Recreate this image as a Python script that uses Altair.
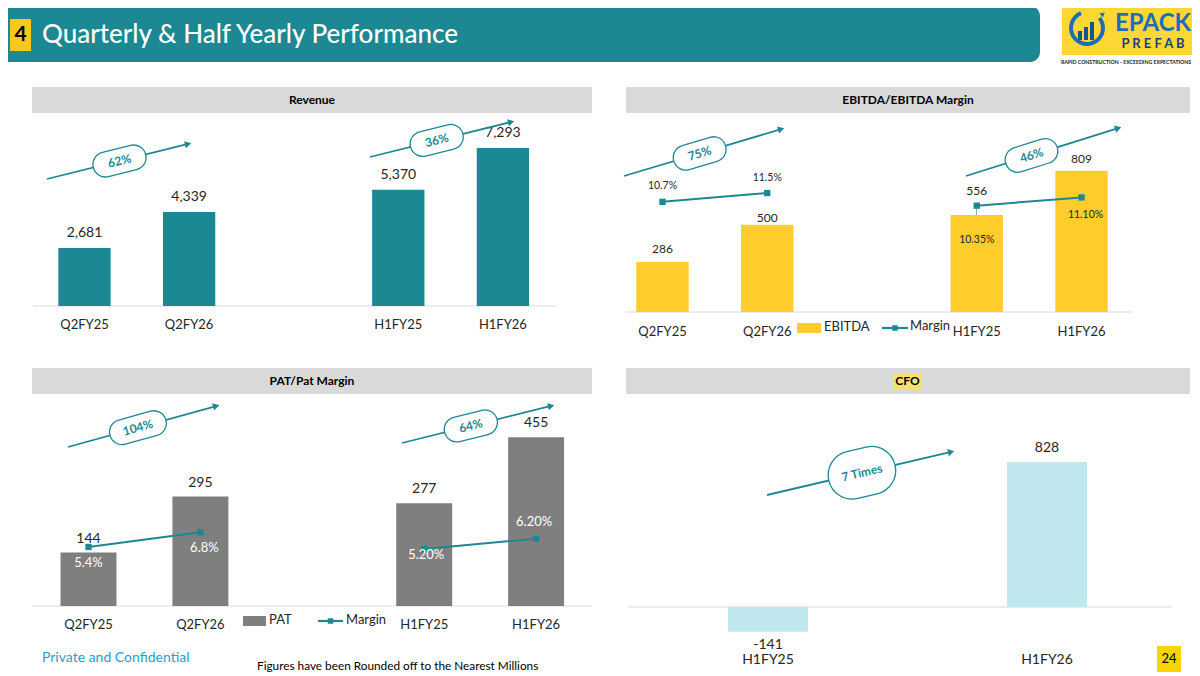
import math
import altair as alt
import pandas as pd

# ---------------- data ----------------
rev_cats = ["Q2FY25", "Q2FY26", "H1FY25", "H1FY26"]
rev_vals = [2681, 4339, 5370, 7293]
rev_growth = ["62%", "36%"]

ebitda_cats = ["Q2FY25", "Q2FY26", "H1FY25", "H1FY26"]
ebitda_vals = [286, 500, 556, 809]
ebitda_margin = [10.7, 11.5, 10.35, 11.10]
ebitda_margin_labels = ["10.7%", "11.5%", "10.35%", "11.10%"]
ebitda_growth = ["75%", "46%"]

pat_cats = ["Q2FY25", "Q2FY26", "H1FY25", "H1FY26"]
pat_vals = [144, 295, 277, 455]
pat_margin = [5.4, 6.8, 5.2, 6.2]
pat_margin_labels = ["5.4%", "6.8%", "5.20%", "6.20%"]
pat_growth = ["104%", "64%"]

cfo_cats = ["H1FY25", "H1FY26"]
cfo_vals = [-141, 828]
cfo_growth = ["7 Times"]

period_group = ["Quarter", "Quarter", "Half year", "Half year"]

# ---------------- styles ----------------
FONT = "Lato"
TEAL = "#1B8893"
ARROW = "#1F8792"
YELLOW = "#FECD2C"
GRAYBAR = "#7F7F7F"
CFOBLUE = "#BFE7ED"
TITLEGRAY = "#D9D9D9"
AXIS = "#D9D9D9"
INK = "#262626"

one = pd.DataFrame({"k": [0]})


def P(v):
    return v - 8


def d_rect(x0, y0, x1, y1, color, **kw):
    return alt.Chart(one).mark_rect(color=color, **kw).encode(
        x=alt.value(P(x0)), x2=alt.value(P(x1)), y=alt.value(P(y0)), y2=alt.value(P(y1)))


def d_text(x, y, text, size=12, color=INK, weight="normal", align="center", font=FONT, **kw):
    return alt.Chart(one).mark_text(text=text, fontSize=size, color=color, fontWeight=weight,
                                    align=align, baseline="middle", font=font, **kw).encode(
        x=alt.value(P(x)), y=alt.value(P(y)))


def d_rule(x0, y0, x1, y1, color, width=1.0):
    return alt.Chart(one).mark_rule(color=color, strokeWidth=width).encode(
        x=alt.value(P(x0)), x2=alt.value(P(x1)), y=alt.value(P(y0)), y2=alt.value(P(y1)))


def d_point(x, y, shape, size, color, angle=0.0):
    return alt.Chart(one).mark_point(shape=shape, size=size, filled=True, color=color,
                                     opacity=1, angle=angle).encode(
        x=alt.value(P(x)), y=alt.value(P(y)))


def pill_path(w, h):
    b = h / w
    return (f"M{-1 + b},{-b} L{1 - b},{-b} A{b},{b} 0 0 1 {1 - b},{b} "
            f"L{-1 + b},{b} A{b},{b} 0 0 1 {-1 + b},{-b} Z")


def arrow(x0, y0, x1, y1, t, w, h, label, fs=12):
    ang = math.degrees(math.atan2(y0 - y1, x1 - x0))
    rot = (360 - ang) % 360
    L = math.hypot(x1 - x0, y1 - y0)
    ux, uy = (x1 - x0) / L, (y1 - y0) / L
    hx, hy = x1 - 4 * ux, y1 - 4 * uy
    cx, cy = x0 + t * (x1 - x0), y0 + t * (y1 - y0)
    layers = [
        d_rule(x0, y0, hx, hy, ARROW, 1.8),
        d_point(hx, hy, "triangle-right", 55, ARROW, rot),
        alt.Chart(one).mark_point(shape=pill_path(w, h), size=w * w, filled=True, fill="white",
                                  stroke=ARROW, strokeWidth=1.3, opacity=1, angle=rot).encode(
            x=alt.value(P(cx)), y=alt.value(P(cy))),
        alt.Chart(one).mark_text(text=label, angle=rot, fontSize=fs, fontWeight="bold", color=ARROW,
                                 font=FONT, baseline="middle", align="center").encode(
            x=alt.value(P(cx)), y=alt.value(P(cy))),
    ]
    return layers


def band(domain, start, stop, pi=0.5):
    return alt.Scale(domain=domain, range=[P(start), P(stop)], paddingInner=pi, paddingOuter=pi / 2)


def lin(domain, bottom, top):
    return alt.Scale(domain=domain, range=[P(bottom), P(top)], nice=False, zero=False)


def xlab_layer(df, xs, y):
    return alt.Chart(df).mark_text(font=FONT, fontSize=13, color=INK, baseline="middle").encode(
        x=alt.X("cat:N", scale=xs, axis=None), y=alt.value(P(y)), text="cat:N")


layers = []

# ---------------- header ----------------
layers.append(d_rect(-10, 6, 1040, 62, TEAL, cornerRadiusTopRight=10, cornerRadiusBottomRight=10))
layers.append(d_rect(10, 19, 31, 51, "#F9C81D"))
layers.append(d_text(20.5, 35, "4", size=21, color="black", weight="bold"))
layers.append(d_text(42, 35, "Quarterly & Half Yearly Performance", size=26, color="white",
                     weight=500, align="left"))

# logo
layers.append(d_rect(1062, 2, 1195, 55, "#FDD835"))
layers.append(alt.Chart(one).mark_arc(color="#1E6DB5", theta=0.9, theta2=5.9, radius=18,
                                      radius2=14).encode(x=alt.value(P(1087)), y=alt.value(P(28))))
layers.append(d_rect(1078, 31, 1082, 40, "#1E4F8F"))
layers.append(d_rect(1084, 27, 1088, 40, "#1E4F8F"))
layers.append(d_rect(1090, 22, 1094, 40, "#1E4F8F"))
layers.append(d_point(1103, 14, "triangle-right", 30, "#1E6DB5", 320))
layers.append(d_text(1153, 24, "EPACK", size=24, color="#1E6DB5", weight="bold"))
layers.append(d_text(1153, 44, "P R E F A B", size=13, color="#1E3F7A", weight="bold"))
layers.append(d_text(1126, 62, "RAPID CONSTRUCTION - EXCEEDING EXPECTATIONS", size=5.2,
                     color="#1A1A1A", weight="bold"))

# ---------------- panel titles ----------------
layers.append(d_rect(32, 87, 592, 113, TITLEGRAY))
layers.append(d_text(312, 100, "Revenue", size=12, weight="bold", color="black"))
layers.append(d_rect(626, 87, 1190, 113, TITLEGRAY))
layers.append(d_text(908, 100, "EBITDA/EBITDA Margin", size=12, weight="bold", color="black"))
layers.append(d_rect(32, 368, 592, 394, TITLEGRAY))
layers.append(d_text(312, 381, "PAT/Pat Margin", size=12, weight="bold", color="black"))
layers.append(d_rect(626, 368, 1190, 394, TITLEGRAY))
layers.append(d_rect(894, 373, 921, 390, "#F3E26E"))
layers.append(d_text(907.5, 381, "CFO", size=12, weight="bold", color="black"))

# ---------------- Revenue ----------------
rev_df = pd.DataFrame({"cat": rev_cats, "v": rev_vals})
rev_x = band(rev_cats[:2] + [" "] + rev_cats[2:], 32.2, 555.2)
rev_y = lin([0, 8000], 306, 306 - 8000 * 0.02165)
layers.append(d_rule(33, 306, 556, 306, AXIS, 1))
layers.append(alt.Chart(rev_df).mark_bar(color=TEAL).encode(
    x=alt.X("cat:N", scale=rev_x, axis=None), y=alt.Y("v:Q", scale=rev_y, axis=None)))
layers.append(alt.Chart(rev_df).mark_text(font=FONT, fontSize=14, color=INK, baseline="middle", dy=-15).encode(
    x=alt.X("cat:N", scale=rev_x, axis=None), y=alt.Y("v:Q", scale=rev_y, axis=None),
    text=alt.Text("v:Q", format=",")))
layers.append(xlab_layer(rev_df, rev_x, 325))
layers += arrow(47, 179, 192, 143, 0.5, 54, 25, rev_growth[0])
layers += arrow(370, 157, 515, 121, 0.46, 54, 25, rev_growth[1])

# ---------------- EBITDA ----------------
eb_df = pd.DataFrame({"cat": ebitda_cats, "v": ebitda_vals, "m": ebitda_margin,
                      "ml": ebitda_margin_labels, "grp": period_group})
eb_x = band(ebitda_cats[:2] + [" "] + ebitda_cats[2:], 610.1, 1133.9)
eb_y = lin([0, 1000], 312, 312 - 1000 * 0.1745)
eb_m = lin([10, 12], 199.5 + 10.95 * 0.9125, 199.5 - 10.95 * 1.0875)
layers.append(d_rule(626, 312, 1133, 312, AXIS, 1))
layers.append(alt.Chart(eb_df).mark_bar(color=YELLOW).encode(
    x=alt.X("cat:N", scale=eb_x, axis=None), y=alt.Y("v:Q", scale=eb_y, axis=None)))
layers.append(d_rule(976.5, 206, 976.5, 215, "#A6A6A6", 1))
eb_val_dy = {"Q2FY25": -13, "Q2FY26": -7, "H1FY25": -24, "H1FY26": -12}
for c, dy in eb_val_dy.items():
    layers.append(alt.Chart(eb_df).transform_filter(alt.datum.cat == c).mark_text(
        font=FONT, fontSize=12, color=INK, baseline="middle", dy=dy).encode(
        x=alt.X("cat:N", scale=eb_x, axis=None), y=alt.Y("v:Q", scale=eb_y, axis=None),
        text=alt.Text("v:Q", format=",")))
layers.append(alt.Chart(eb_df).mark_line(color=TEAL, strokeWidth=2).encode(
    x=alt.X("cat:N", scale=eb_x, axis=None), y=alt.Y("m:Q", scale=eb_m, axis=None), detail="grp:N"))
layers.append(alt.Chart(eb_df).mark_point(shape="square", size=40, filled=True, color=TEAL, opacity=1).encode(
    x=alt.X("cat:N", scale=eb_x, axis=None), y=alt.Y("m:Q", scale=eb_m, axis=None)))
eb_m_off = {"Q2FY25": (0, -16), "Q2FY26": (0, -15), "H1FY25": (0, 34), "H1FY26": (4, 18)}
for c, (dx, dy) in eb_m_off.items():
    layers.append(alt.Chart(eb_df).transform_filter(alt.datum.cat == c).mark_text(
        font=FONT, fontSize=10.5, color=INK, baseline="middle", dx=dx, dy=dy).encode(
        x=alt.X("cat:N", scale=eb_x, axis=None), y=alt.Y("m:Q", scale=eb_m, axis=None), text="ml:N"))
layers.append(xlab_layer(eb_df, eb_x, 332))
# legend
layers.append(d_rect(797, 323, 821, 333, YELLOW))
layers.append(d_text(824, 327, "EBITDA", size=13, align="left"))
layers.append(d_rule(882, 328, 908, 328, TEAL, 2.2))
layers.append(d_point(895, 328, "square", 30, TEAL))
layers.append(d_text(910, 326, "Margin", size=13, align="left"))
layers += arrow(624, 176, 785, 128, 0.47, 54, 25, ebitda_growth[0])
layers += arrow(966, 176, 1122, 127, 0.42, 54, 25, ebitda_growth[1])

# ---------------- PAT ----------------
pat_df = pd.DataFrame({"cat": pat_cats, "v": pat_vals, "m": pat_margin,
                       "ml": pat_margin_labels, "grp": period_group})
pat_x = band(pat_cats[:2] + [" "] + pat_cats[2:], 32.55, 592.05)
pat_y = lin([0, 500], 606, 606 - 500 * 0.371)
pat_m = lin([5, 7], 541.75 + 10.43 * 0.9, 541.75 - 10.43 * 1.1)
layers.append(d_rule(32, 606, 592, 606, AXIS, 1))
layers.append(alt.Chart(pat_df).mark_bar(color=GRAYBAR).encode(
    x=alt.X("cat:N", scale=pat_x, axis=None), y=alt.Y("v:Q", scale=pat_y, axis=None)))
layers.append(alt.Chart(pat_df).mark_text(font=FONT, fontSize=14, color=INK, baseline="middle", dy=-14).encode(
    x=alt.X("cat:N", scale=pat_x, axis=None), y=alt.Y("v:Q", scale=pat_y, axis=None),
    text=alt.Text("v:Q", format=",")))
layers.append(alt.Chart(pat_df).mark_line(color=TEAL, strokeWidth=2).encode(
    x=alt.X("cat:N", scale=pat_x, axis=None), y=alt.Y("m:Q", scale=pat_m, axis=None), detail="grp:N"))
layers.append(alt.Chart(pat_df).mark_point(shape="square", size=40, filled=True, color=TEAL, opacity=1).encode(
    x=alt.X("cat:N", scale=pat_x, axis=None), y=alt.Y("m:Q", scale=pat_m, axis=None)))
pat_m_off = {"Q2FY25": (0, 16), "Q2FY26": (4, 16), "H1FY25": (2, 6), "H1FY26": (-2, -17)}
for c, (dx, dy) in pat_m_off.items():
    layers.append(alt.Chart(pat_df).transform_filter(alt.datum.cat == c).mark_text(
        font=FONT, fontSize=13, color="white", baseline="middle", dx=dx, dy=dy).encode(
        x=alt.X("cat:N", scale=pat_x, axis=None), y=alt.Y("m:Q", scale=pat_m, axis=None), text="ml:N"))
layers.append(xlab_layer(pat_df, pat_x, 625))
layers.append(d_rect(243, 616, 266, 626, GRAYBAR))
layers.append(d_text(269, 620, "PAT", size=13, align="left"))
layers.append(d_rule(318, 621, 343, 621, TEAL, 2.2))
layers.append(d_point(330.5, 621, "square", 30, TEAL))
layers.append(d_text(346, 620, "Margin", size=13, align="left"))
layers += arrow(68, 447, 220, 405, 0.46, 58, 25, pat_growth[0])
layers += arrow(402, 443, 555, 405, 0.45, 54, 25, pat_growth[1])

# ---------------- CFO ----------------
cfo_df = pd.DataFrame({"cat": cfo_cats, "v": cfo_vals})
pi_cfo = 1 - 80 / 279
cfo_x = band(cfo_cats, 628.5, 1186.5, pi_cfo)
cfo_y = lin([-200, 1000], 607 + 200 * 0.175, 607 - 1000 * 0.175)
layers.append(d_rule(628, 607, 1172, 607, AXIS, 1))
layers.append(alt.Chart(cfo_df).mark_bar(color=CFOBLUE).encode(
    x=alt.X("cat:N", scale=cfo_x, axis=None), y=alt.Y("v:Q", scale=cfo_y, axis=None)))
layers.append(alt.Chart(cfo_df).transform_calculate(lbl="'' + datum.v").transform_filter(
    alt.datum.v >= 0).mark_text(
    font=FONT, fontSize=14, color=INK, baseline="middle", dy=-14).encode(
    x=alt.X("cat:N", scale=cfo_x, axis=None), y=alt.Y("v:Q", scale=cfo_y, axis=None), text="lbl:N"))
layers.append(alt.Chart(cfo_df).transform_calculate(lbl="'' + datum.v").transform_filter(
    alt.datum.v < 0).mark_text(
    font=FONT, fontSize=14, color=INK, baseline="middle", dy=13).encode(
    x=alt.X("cat:N", scale=cfo_x, axis=None), y=alt.Y("v:Q", scale=cfo_y, axis=None), text="lbl:N"))
layers.append(alt.Chart(cfo_df).mark_text(font=FONT, fontSize=14, color=INK, baseline="middle").encode(
    x=alt.X("cat:N", scale=cfo_x, axis=None), y=alt.value(P(660)), text="cat:N"))
layers += arrow(767, 495, 955, 451, 0.505, 68, 48, cfo_growth[0])

# ---------------- footer ----------------
layers.append(d_text(42, 658, "Private and Confidential", size=14, color="#2E9CC4", align="left"))
layers.append(d_text(257, 666, "Figures have been Rounded off to the Nearest Millions", size=11.8,
                     color="black", align="left"))
layers.append(d_rect(1157, 646, 1181, 672, "#FAD400"))
layers.append(d_text(1169, 659, "24", size=13, color="black"))

chart = alt.layer(*layers).resolve_scale(x="independent", y="independent").properties(
    width=1184, height=668, padding=0, autosize=alt.AutoSizeParams(type="none"),
    background="white").configure_view(stroke=None)

chart.save("out.html", embed_options={"renderer": "svg", "actions": False})
